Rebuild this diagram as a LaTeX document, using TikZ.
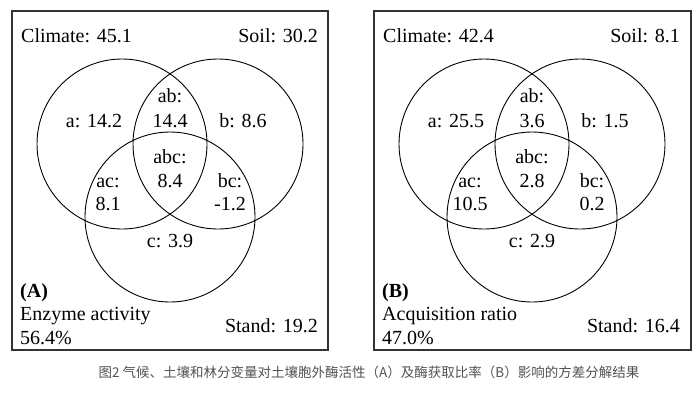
\documentclass[tikz,border=0pt]{standalone}
\usepackage{fontspec}
\setmainfont{Liberation Serif}
\newfontfamily\cjk{Noto Sans CJK SC}
\begin{document}
\begin{tikzpicture}[x=1pt,y=-1pt,
  lbl/.style={font=\fontsize{20}{24}\selectfont, inner sep=0pt, anchor=base},
  lblL/.style={lbl, anchor=base west},
  lblR/.style={lbl, anchor=base east},
  frame/.style={draw=black!80, line width=1.1pt},
  venn/.style={draw=black, line width=0.9pt},
  captext/.style={font=\cjk\fontsize{13.5}{16}\selectfont, text=black!68, inner sep=0pt, anchor=base}]
\useasboundingbox (0,0) rectangle (700,392);
% Panel A
\begin{scope}[name prefix=A-]
  \draw[frame] (12,11) rectangle (328,350);
  \draw[venn] (122,144) circle[radius=85];
  \draw[venn] (218,144) circle[radius=85];
  \draw[venn] (170,217) circle[radius=85];
  \node[lblL] (clim) at (21,42) {Climate: 45.1};
  \node[lblR] (soil) at (318,42) {Soil: 30.2};
  \node[lbl] (a) at (94,127) {a: 14.2};
  \node[lbl] (ab1) at (170,102) {ab:};
  \node[lbl] (ab2) at (170,127) {14.4};
  \node[lbl] (b) at (243,127) {b: 8.6};
  \node[lbl] (abc1) at (170,163) {abc:};
  \node[lbl] (abc2) at (170,187) {8.4};
  \node[lbl] (ac1) at (108,187) {ac:};
  \node[lbl] (ac2) at (108,210) {8.1};
  \node[lbl] (bc1) at (230,187) {bc:};
  \node[lbl] (bc2) at (230,210) {-1.2};
  \node[lbl] (c) at (170,247) {c: 3.9};
  \node[lblL] (tag) at (20,297) {\bfseries (A)};
  \node[lblL] (name) at (20,320) {Enzyme activity};
  \node[lblL] (pct) at (20,344) {56.4\%};
  \node[lblR] (stand) at (318,332) {Stand: 19.2};
\end{scope}
% Panel B
\begin{scope}[xshift=362pt, name prefix=B-]
  \draw[frame] (12,11) rectangle (329,350);
  \draw[venn] (122,144) circle[radius=85];
  \draw[venn] (218,144) circle[radius=85];
  \draw[venn] (170,217) circle[radius=85];
  \node[lblL] (clim) at (21,42) {Climate: 42.4};
  \node[lblR] (soil) at (318,42) {Soil: 8.1};
  \node[lbl] (a) at (94,127) {a: 25.5};
  \node[lbl] (ab1) at (170,102) {ab:};
  \node[lbl] (ab2) at (170,127) {3.6};
  \node[lbl] (b) at (243,127) {b: 1.5};
  \node[lbl] (abc1) at (170,163) {abc:};
  \node[lbl] (abc2) at (170,187) {2.8};
  \node[lbl] (ac1) at (108,187) {ac:};
  \node[lbl] (ac2) at (108,210) {10.5};
  \node[lbl] (bc1) at (230,187) {bc:};
  \node[lbl] (bc2) at (230,210) {0.2};
  \node[lbl] (c) at (170,247) {c: 2.9};
  \node[lblL] (tag) at (20,297) {\bfseries (B)};
  \node[lblL] (name) at (20,320) {Acquisition ratio};
  \node[lblL] (pct) at (20,344) {47.0\%};
  \node[lblR] (stand) at (318,332) {Stand: 16.4};
\end{scope}
\node[captext] (caption) at (369,377) {图2 气候、土壤和林分变量对土壤胞外酶活性（A）及酶获取比率（B）影响的方差分解结果};
\end{tikzpicture}
\end{document}
